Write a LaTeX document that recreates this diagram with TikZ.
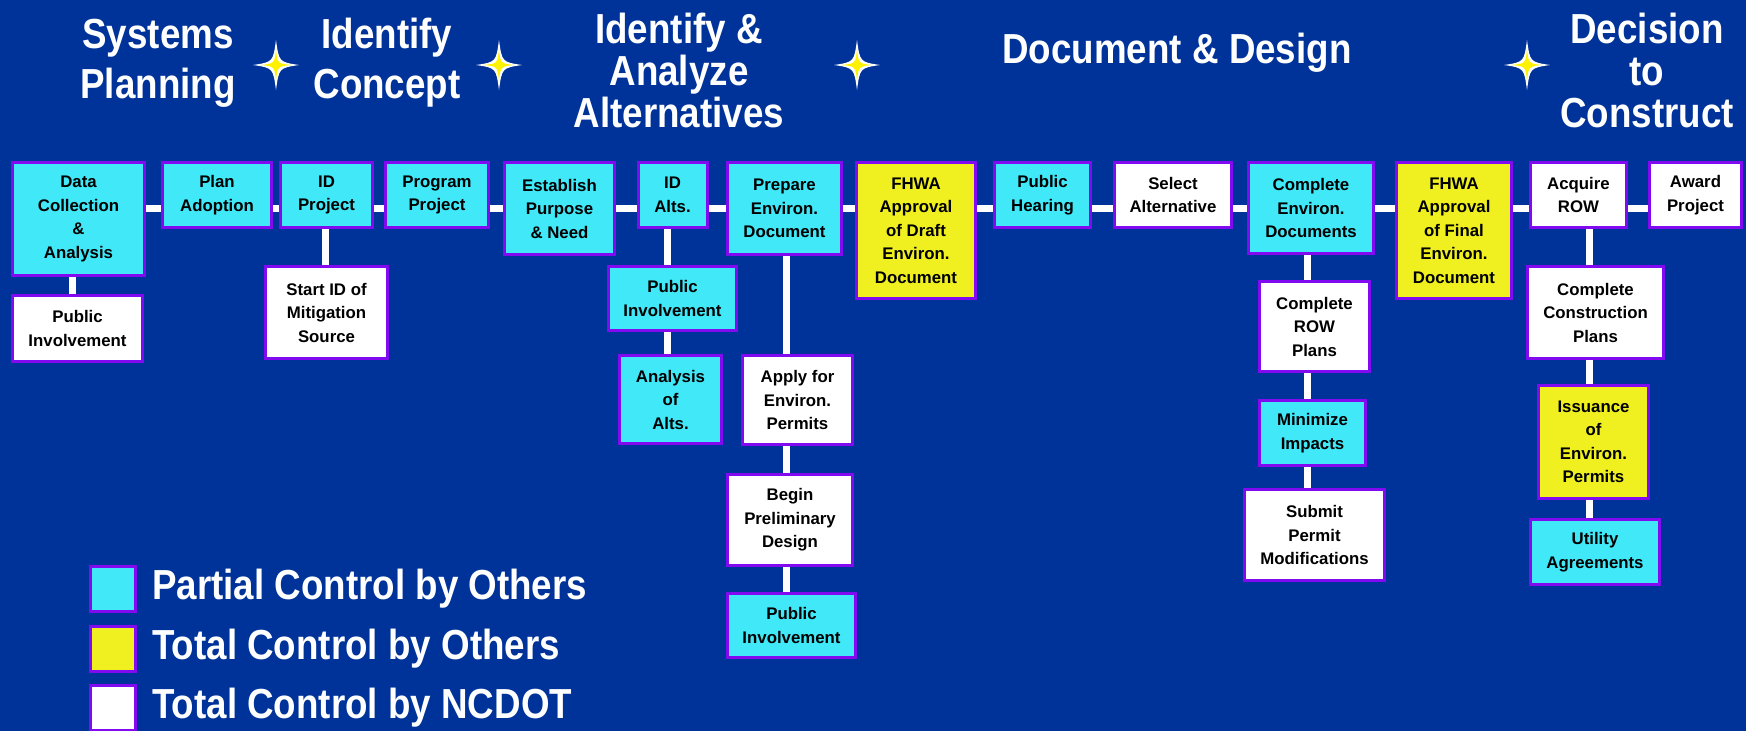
\documentclass[tikz,border=0pt]{standalone}
\usepackage{fontspec}
\setmainfont{Liberation Sans}
\newfontfamily\headfont{Liberation Sans}[FakeStretch=0.875]
\usepackage{tikz}
\usetikzlibrary{
  	positioning,
  	calc
  }
\definecolor{bgblue}{RGB}{0,51,153}
\definecolor{edge}{RGB}{130,10,240}
\definecolor{partcol}{RGB}{64,232,248}
\definecolor{othcol}{RGB}{240,240,32}
\tikzstyle{stage}=[draw=edge,line width=3pt,align=center,inner sep=1pt,font=\bfseries\fontsize{16.8}{23.5}\selectfont]
\tikzstyle{partial}=[stage,fill=partcol]
\tikzstyle{others}=[stage,fill=othcol]
\tikzstyle{ncdot}=[stage,fill=white]
\tikzstyle{link}=[white,line width=7pt]
\tikzstyle{head}=[text=white,align=center,inner sep=0pt,font=\headfont\bfseries\fontsize{42}{50}\selectfont]
\tikzstyle{headtall}=[head,font=\headfont\bfseries\fontsize{42}{42}\selectfont]
\tikzstyle{legtext}=[text=white,inner sep=0pt,font=\headfont\bfseries\fontsize{42}{50}\selectfont]
\tikzstyle{legkey}=[minimum size=45pt,inner sep=0pt]

\begin{document}
\begin{tikzpicture}[x=1pt,y=-1pt]
  \useasboundingbox (0,0) rectangle (1746,731);
  \fill[bgblue] (0,0) rectangle (1746,731);
%
  \node[head] (sysplan) at (158,63) {Systems\\Planning};
  \node[head] (idcon) at (387,63) {Identify\\Concept};
  \node[headtall] (idalts) at (679,70) {Identify \&\\Analyze\\Alternatives};
  \node[head] (docdes) at (1177,53) {Document \& Design};
  \node[headtall] (decide) at (1647,70) {Decision\\to\\Construct};
  \foreach \p in {276,499,857,1527} {
    \fill[white,shift={(\p,65)}] (0,-25) .. controls (3,-3) .. (23,0) .. controls (3,3) .. (0,25)
       .. controls (-3,3) .. (-23,0) .. controls (-3,-3) .. (0,-25) -- cycle;
    \fill[yellow,shift={(\p,65)}] (0,-16) .. controls (1.5,-1.5) .. (15,0) .. controls (1.5,1.5) .. (0,16)
       .. controls (-1.5,1.5) .. (-15,0) .. controls (-1.5,-1.5) .. (0,-16) -- cycle;
  }
%
  \node[partial,minimum width=132pt,minimum height=113pt] (data) at (78.5,219) {Data\\Collection\\\&\\Analysis};
  \node[ncdot,minimum width=130pt,minimum height=66pt] (pi1) at (77.5,328.5) {Public\\Involvement};
  \node[partial,minimum width=109pt,minimum height=65pt] (plan) at (217,195) {Plan\\Adoption};
  \node[partial,minimum width=92pt,minimum height=65pt] (idp) at (326.5,195) {ID\\Project};
  \node[ncdot,minimum width=122pt,minimum height=92pt] (mitig) at (326.5,312.5) {Start ID of\\Mitigation\\Source};
  \node[partial,minimum width=103pt,minimum height=65pt] (prog) at (437,195) {Program\\Project};
  \node[partial,minimum width=110pt,minimum height=92pt] (estab) at (559.5,208.5) {Establish\\Purpose\\\& Need};
  \node[partial,minimum width=69pt,minimum height=65pt] (idalt) at (672.5,195) {ID\\Alts.};
  \node[partial,minimum width=128pt,minimum height=64pt] (pi2) at (672.5,298.5) {Public\\Involvement};
  \node[partial,minimum width=102pt,minimum height=88pt] (anal) at (670.5,399.5) {Analysis\\of\\Alts.};
  \node[partial,minimum width=114pt,minimum height=92pt] (prep) at (784.5,208.5) {Prepare\\Environ.\\Document};
  \node[ncdot,minimum width=110pt,minimum height=89pt] (apply) at (797.5,400) {Apply for\\Environ.\\Permits};
  \node[ncdot,minimum width=125pt,minimum height=91pt] (begin) at (790,520) {Begin\\Preliminary\\Design};
  \node[partial,minimum width=128pt,minimum height=64pt] (pi3) at (791.5,625.5) {Public\\Involvement};
  \node[others,minimum width=119pt,minimum height=136pt] (fhwad) at (916,230.5) {FHWA\\Approval\\of Draft\\Environ.\\Document};
  \node[partial,minimum width=96pt,minimum height=65pt] (hear) at (1042.5,195) {Public\\Hearing};
  \node[ncdot,minimum width=117pt,minimum height=65pt] (select) at (1173,195) {Select\\Alternative};
  \node[partial,minimum width=125pt,minimum height=91pt] (cenv) at (1311,208) {Complete\\Environ.\\Documents};
  \node[ncdot,minimum width=110pt,minimum height=90pt] (crow) at (1314.5,326.5) {Complete\\ROW\\Plans};
  \node[partial,minimum width=106pt,minimum height=65pt] (minim) at (1312.5,433) {Minimize\\Impacts};
  \node[ncdot,minimum width=140pt,minimum height=91pt] (submit) at (1314.5,535) {Submit\\Permit\\Modifications};
  \node[others,minimum width=115pt,minimum height=136pt] (fhwaf) at (1454,230.5) {FHWA\\Approval\\of Final\\Environ.\\Document};
  \node[ncdot,minimum width=96pt,minimum height=65pt] (acq) at (1578.5,195) {Acquire\\ROW};
  \node[ncdot,minimum width=92pt,minimum height=65pt] (award) at (1695.5,195) {Award\\Project};
  \node[ncdot,minimum width=136pt,minimum height=92pt] (cplan) at (1595.5,312.5) {Complete\\Construction\\Plans};
  \node[others,minimum width=110pt,minimum height=113pt] (issue) at (1593.5,442) {Issuance\\of\\Environ.\\Permits};
  \node[partial,minimum width=129pt,minimum height=65pt] (util) at (1595,552) {Utility\\Agreements};
%
  \coordinate (bar) at (0,208.5);
  \coordinate (colA) at (72,0);
  \coordinate (colM) at (325,0);
  \coordinate (colB) at (667,0);
  \coordinate (colC) at (786,0);
  \coordinate (colD) at (1307,0);
  \coordinate (colE) at (1589,0);
  \foreach \a/\b in {data/plan,plan/idp,idp/prog,prog/estab,estab/idalt,idalt/prep,
      prep/fhwad,fhwad/hear,hear/select,select/cenv,cenv/fhwaf,fhwaf/acq,acq/award}
    \draw[link] (\a.east |- bar) -- (\b.west |- bar);
  \foreach \a/\b/\c in {data/pi1/colA,idp/mitig/colM,idalt/pi2/colB,pi2/anal/colB,
      prep/apply/colC,apply/begin/colC,begin/pi3/colC,cenv/crow/colD,crow/minim/colD,
      minim/submit/colD,acq/cplan/colE,cplan/issue/colE,issue/util/colE}
    \draw[link] (\a.south -| \c) -- (\b.north -| \c);
%
  \node[partial,legkey] (kpart) at (113,589) {};
  \node[others,legkey] (kother) at (113,648.5) {};
  \node[ncdot,legkey] (kncdot) at (113,708) {};
  \node[legtext,right=15pt of kpart] (tpart) {Partial Control by Others};
  \node[legtext,right=15pt of kother] (tother) {Total Control by Others};
  \node[legtext,right=15pt of kncdot] (tncdot) {Total Control by NCDOT};
\end{tikzpicture}
\end{document}
